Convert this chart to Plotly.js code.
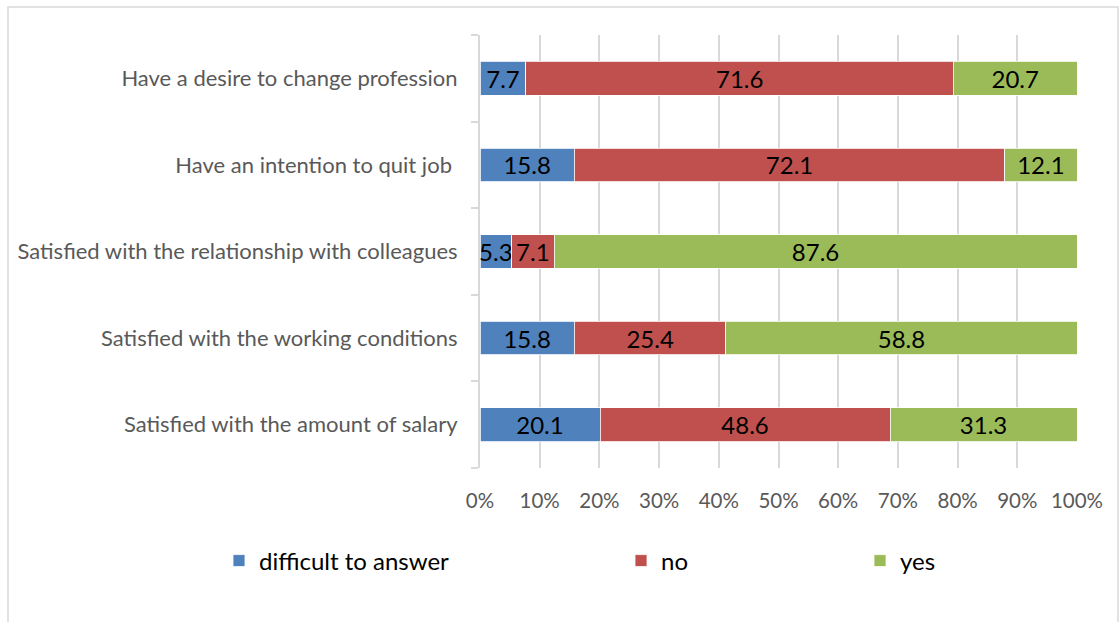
<!DOCTYPE html>
<html>
<head>
<meta charset="utf-8">
<script src="https://cdn.plot.ly/plotly-3.0.1.min.js"></script>
<style>html,body{margin:0;padding:0;background:#fff;}#chart{width:1120px;height:622px;}</style>
</head>
<body>
<div id="chart"></div>
<script>
const categories = [
  "Have a desire to change profession",
  "Have an intention to quit job\u00a0",
  "Satisfied with the relationship with colleagues",
  "Satisfied with the working conditions",
  "Satisfied with the amount of salary"
];
const difficultToAnswer = [7.7, 15.8, 5.3, 15.8, 20.1];
const no = [71.6, 72.1, 7.1, 25.4, 48.6];
const yes = [20.7, 12.1, 87.6, 58.8, 31.3];
const seriesNames = ["difficult to answer", "no", "yes"];
const xTicks = [0, 10, 20, 30, 40, 50, 60, 70, 80, 90, 100];

const colors = ["#4F81BD", "#C0504D", "#9BBB59"];
const font = "Lato, 'Open Sans', sans-serif";
const seriesData = [difficultToAnswer, no, yes];
const legendIds = ["legend", "legend2", "legend3"];

const traces = seriesData.map((vals, i) => ({
  type: "bar",
  orientation: "h",
  name: seriesNames[i],
  y: categories,
  x: vals,
  text: vals.map(v => v.toFixed(1)),
  textposition: "inside",
  insidetextanchor: "middle",
  textangle: 0,
  constraintext: "none",
  cliponaxis: false,
  textfont: {family: font, size: 24, color: "#000"},
  marker: {color: colors[i], line: {color: "#ffffff", width: 0.8}},
  hoverinfo: "skip",
  legend: legendIds[i]
}));

const legendX = [219, 621, 860];
const pw = 597, ph = 433, L = 480, T = 35;
function px2x(p){ return (p - L) / pw; }
function py2y(p){ return (T + ph - p) / ph; }
const legendBase = {
  orientation: "h", xanchor: "left", yanchor: "middle",
  font: {family: font, size: 24, color: "#000"},
  bgcolor: "rgba(0,0,0,0)"
};

const layout = {
  width: 1120, height: 622,
  margin: {l: L, r: 1120 - L - pw, t: T, b: 622 - T - ph},
  paper_bgcolor: "#fff", plot_bgcolor: "#fff",
  barmode: "stack",
  bargap: 0.61,
  showlegend: true,
  legend: Object.assign({}, legendBase, {x: px2x(legendX[0]), y: py2y(561)}),
  legend2: Object.assign({}, legendBase, {x: px2x(legendX[1]), y: py2y(561)}),
  legend3: Object.assign({}, legendBase, {x: px2x(legendX[2]), y: py2y(561)}),
  xaxis: {
    range: [0, 100],
    tickvals: xTicks,
    ticktext: xTicks.map(v => v + "%"),
    showgrid: true, gridcolor: "#d9d9d9", gridwidth: 2,
    zeroline: false, showline: false,
    ticks: "",
    ticklabelstandoff: 18,
    tickfont: {family: font, size: 20.5, color: "#595959"},
    fixedrange: true
  },
  yaxis: {
    categoryorder: "array",
    categoryarray: categories.slice().reverse(),
    showgrid: false, zeroline: false,
    showline: true, linecolor: "#d9d9d9", linewidth: 2,
    ticks: "outside", ticklen: 7, tickcolor: "#d9d9d9", tickwidth: 2,
    tickson: "boundaries",
    ticklabelstandoff: 16,
    tickfont: {family: font, size: 22, color: "#595959"},
    fixedrange: true
  },
  shapes: [{
    type: "rect", xref: "paper", yref: "paper",
    x0: px2x(8), x1: px2x(1118), y0: py2y(640), y1: py2y(7),
    line: {color: "#d9d9d9", width: 1.5}, fillcolor: "rgba(0,0,0,0)", layer: "below"
  }]
};

Plotly.newPlot("chart", traces, layout, {displayModeBar: false, staticPlot: true});
</script>
</body>
</html>
